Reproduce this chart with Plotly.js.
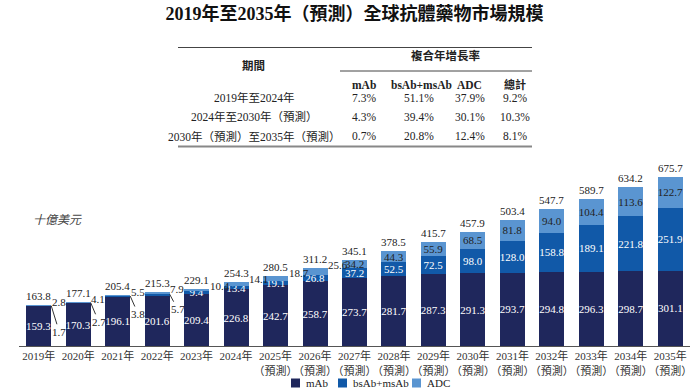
<!DOCTYPE html>
<html>
<head>
<meta charset="utf-8">
<script src="https://cdn.plot.ly/plotly-3.0.1.min.js"></script>
<style>html,body{margin:0;padding:0;background:#fff;}#chart{width:695px;height:391px;}</style>
</head>
<body>
<div id="chart"></div>
<script>
// ---- data ----
const years = ['2019年','2020年','2021年','2022年','2023年','2024年','2025年E','2026年E','2027年E','2028年E','2029年E','2030年E','2031年E','2032年E','2033年E','2034年E','2035年E'];
const tickLabels = ['2019年','2020年','2021年','2022年','2023年','2024年',
  '2025年<br>（預測）','2026年<br>（預測）','2027年<br>（預測）','2028年<br>（預測）','2029年<br>（預測）',
  '2030年<br>（預測）','2031年<br>（預測）','2032年<br>（預測）','2033年<br>（預測）','2034年<br>（預測）','2035年<br>（預測）'];
const mab  = [159.3,170.3,196.1,201.6,209.4,226.8,242.7,258.7,273.7,281.7,287.3,291.3,293.7,294.8,296.3,298.7,301.1];
const bsab = [1.7,2.7,3.8,5.7,9.4,13.4,19.1,26.8,37.2,52.5,72.5,98.0,128.0,158.8,189.1,221.8,251.9];
const adc  = [2.8,4.1,5.5,7.9,10.4,14.1,18.7,25.6,34.2,44.3,55.9,68.5,81.8,94.0,104.4,113.6,122.7];
const totals = [163.8,177.1,205.4,215.3,229.1,254.3,280.5,311.2,345.1,378.5,415.7,457.9,503.4,547.7,589.7,634.2,675.7];
const seriesNames = ['mAb','bsAb+msAb','ADC'];

const chartTitle = '2019年至2035年（預測）全球抗體藥物市場規模';
const tablePeriods = ['2019年至2024年','2024年至2030年（預測）','2030年（預測）至2035年（預測）'];
const cagrMab  = ['7.3%','4.3%','0.7%'];
const cagrBsab = ['51.1%','39.4%','20.8%'];
const cagrAdc  = ['37.9%','30.1%','12.4%'];
const cagrTotal= ['9.2%','10.3%','8.1%'];

// ---- style ----
const SERIF = '"Liberation Serif","Times New Roman","Noto Sans CJK TC",serif';
const colors = ['#1f275c','#1159a8','#5a95d1'];
const TXT = '#222';
const W = 695, H = 391, ML = 19, MR = 5, MT = 171, MB = 45;
const PW = W - ML - MR, PH = H - MT - MB;
const px = x => (x - ML) / PW;
const py = y => (H - MB - y) / PH;
const BSAB_MIN_INSIDE = 9, ADC_MIN_INSIDE = 30;
const leaderDrop = [26, 19, 18, 15];

const fmt = v => v.toFixed(1);

const traces = [
  {name: seriesNames[0], x: years, y: mab, type: 'bar', marker: {color: colors[0]},
   text: mab.map(fmt), textposition: 'inside', insidetextanchor: 'middle',
   textfont: {family: SERIF, size: 11, color: '#fff'}},
  {name: seriesNames[1], x: years, y: bsab, type: 'bar', marker: {color: colors[1]},
   text: bsab.map(v => v >= BSAB_MIN_INSIDE ? fmt(v) : ''), textposition: 'inside', insidetextanchor: 'middle',
   textfont: {family: SERIF, size: 11, color: '#fff'}},
  {name: seriesNames[2], x: years, y: adc, type: 'bar', marker: {color: colors[2]},
   text: adc.map(v => v >= ADC_MIN_INSIDE ? fmt(v) : ''), textposition: 'inside', insidetextanchor: 'middle',
   textfont: {family: SERIF, size: 11, color: TXT}}
];
traces.forEach(t => { t.constraintext = 'none'; t.textangle = 0; t.hoverinfo = 'skip'; t.marker.line = {width: 0}; t.cliponaxis = false; });

const ann = [];
// totals
years.forEach((yr, i) => ann.push({x: yr, y: totals[i], xref: 'x', yref: 'y', text: fmt(totals[i]),
  showarrow: false, yanchor: 'bottom', yshift: 1, font: {family: SERIF, size: 11, color: TXT}}));
// ADC outside labels
years.forEach((yr, i) => { if (adc[i] < ADC_MIN_INSIDE) ann.push({x: yr, y: totals[i], xref: 'x', yref: 'y',
  text: fmt(adc[i]), showarrow: false, xanchor: 'left', yanchor: 'middle', xshift: 11, yshift: 3,
  font: {family: SERIF, size: 11, color: TXT}}); });
// bsAb leader labels
let k = 0;
years.forEach((yr, i) => { if (bsab[i] < BSAB_MIN_INSIDE) { ann.push({x: yr, y: mab[i] + bsab[i], xref: 'x', yref: 'y',
  text: fmt(bsab[i]), showarrow: true, arrowhead: 0, arrowwidth: 1, arrowcolor: '#333', ax: 8, ay: leaderDrop[k] || 18,
  xshift: 12.5, font: {family: SERIF, size: 11, color: TXT}}); k++; } });
// unit label
ann.push({xref: 'paper', yref: 'paper', x: px(31), y: py(220), xanchor: 'left', yanchor: 'middle', showarrow: false,
  text: '<i>十億美元</i>', font: {family: SERIF, size: 12, color: '#444'}});

// table
const tfont = {family: SERIF, size: 11.5, color: TXT};
const hfont = {family: SERIF, size: 11.5, color: TXT};
const tAnn = (x, y, text, font) => ann.push({xref: 'paper', yref: 'paper', x: px(x), y: py(y), text: text,
  showarrow: false, xanchor: 'center', yanchor: 'middle', font: font});
tAnn(253, 66, '<b>期間</b>', hfont);
tAnn(445, 55.5, '<b>複合年增長率</b>', hfont);
tAnn(364, 84.5, '<b>mAb</b>', hfont);
tAnn(421, 84.5, '<b>bsAb+msAb</b>', hfont);
tAnn(469, 84.5, '<b>ADC</b>', hfont);
tAnn(515, 84.5, '<b>總計</b>', {family: SERIF, size: 11, color: TXT});
const rowY = [97.5, 116.5, 136];
tablePeriods.forEach((p, i) => {
  tAnn(254, rowY[i], p, tfont);
  tAnn(364, rowY[i], cagrMab[i], tfont);
  tAnn(419, rowY[i], cagrBsab[i], tfont);
  tAnn(470, rowY[i], cagrAdc[i], tfont);
  tAnn(515, rowY[i], cagrTotal[i], tfont);
});
const hline = (x0, x1, y, w, c) => ({type: 'line', xref: 'paper', yref: 'paper', x0: px(x0), x1: px(x1), y0: py(y), y1: py(y),
  line: {color: c, width: w}});
const shapes = [
  hline(178, 532, 47.5, 1.2, '#444'),
  hline(340, 532, 71, 1, '#444'),
  hline(178, 532, 146.5, 2, '#888')
];

// custom legend (squares + labels)
const legX = [291, 338, 412];
seriesNames.forEach((n, i) => {
  shapes.push({type: 'rect', xref: 'paper', yref: 'paper', x0: px(legX[i]), x1: px(legX[i] + 9),
    y0: py(387.5), y1: py(378.5), fillcolor: colors[i], line: {width: 0}});
  ann.push({xref: 'paper', yref: 'paper', x: px(legX[i] + 13), y: py(383), xanchor: 'left', yanchor: 'middle',
    showarrow: false, text: n, font: {family: SERIF, size: 11, color: TXT}});
});

const layout = {
  width: W, height: H,
  margin: {l: ML, r: MR, t: MT, b: MB, pad: 0},
  paper_bgcolor: '#fff', plot_bgcolor: '#fff',
  barmode: 'stack', bargap: 0.367,
  title: {text: '<b>' + chartTitle + '</b>', x: 0.5, xref: 'paper', xanchor: 'center',
    y: 1 - 14 / H, yref: 'container', yanchor: 'middle', font: {family: SERIF, size: 18, color: '#111'}},
  xaxis: {type: 'category', categoryorder: 'array', categoryarray: years, tickvals: years, ticktext: tickLabels,
    tickangle: 0, showline: true, linecolor: '#555', linewidth: 1,
    ticks: '', showgrid: false, zeroline: false, fixedrange: true,
    tickfont: {family: SERIF, size: 11, color: '#333'}},
  yaxis: {range: [0, 700], visible: false, showgrid: false, zeroline: false, fixedrange: true},
  showlegend: false,
  annotations: ann,
  shapes: shapes
};

Plotly.newPlot('chart', traces, layout, {staticPlot: true, displayModeBar: false});
</script>
</body>
</html>
